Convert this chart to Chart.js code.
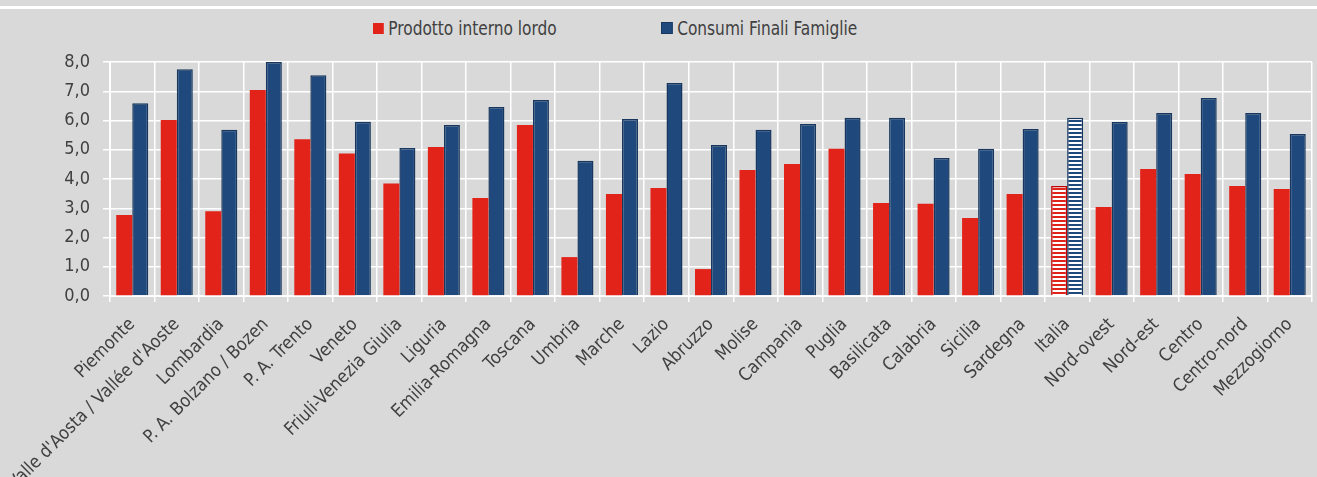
<!DOCTYPE html>
<html>
<head>
<meta charset="utf-8">
<script src="https://cdn.jsdelivr.net/npm/chart.js@4.4.1/dist/chart.umd.min.js"></script>
<style>
  html, body { margin: 0; padding: 0; background: #d9d9d9; }
  #wrap { position: relative; width: 1317px; height: 477px; overflow: hidden; }
  #topline { position: absolute; left: 0; top: 6px; width: 1317px; height: 3px; background: #ffffff; }
  .leg { position: absolute; top: 17px; font-family: "Liberation Sans Narrow", "DejaVu Sans Condensed", sans-serif;
         font-size: 19px; color: #404040; white-space: nowrap; line-height: 22px;
         transform: scaleX(0.9); transform-origin: left center; }
  .leg span.box { display: inline-block; width: 12px; height: 11px; margin-right: 5px; vertical-align: 1px; }
  canvas { position: absolute; left: 0; top: 0; }
</style>
</head>
<body>
<div id="wrap">
  <div id="topline"></div>
  <div class="leg" style="left:373px"><span class="box" style="background:#e2231a"></span>Prodotto interno lordo</div>
  <div class="leg" style="left:661px"><span class="box" style="background:#1f497d;border:1px solid #17375e;width:11px;height:10px"></span>Consumi Finali Famiglie</div>
  <canvas id="chart" width="1317" height="477"></canvas>
</div>
<script>
// Dati
const categorie = ['Piemonte', "Valle d'Aosta / Vallée d'Aoste", 'Lombardia', 'P. A. Bolzano / Bozen', 'P. A. Trento',
  'Veneto', 'Friuli-Venezia Giulia', 'Liguria', 'Emilia-Romagna', 'Toscana', 'Umbria', 'Marche', 'Lazio',
  'Abruzzo', 'Molise', 'Campania', 'Puglia', 'Basilicata', 'Calabria', 'Sicilia', 'Sardegna', 'Italia',
  'Nord-ovest', 'Nord-est', 'Centro', 'Centro-nord', 'Mezzogiorno'];
const pil = [2.77, 6.02, 2.90, 7.04, 5.36, 4.87, 3.85, 5.09, 3.35, 5.85, 1.33, 3.49, 3.69,
  0.92, 4.31, 4.51, 5.03, 3.18, 3.15, 2.67, 3.49, 3.76, 3.04, 4.34, 4.17, 3.76, 3.66];
const consumi = [6.59, 7.75, 5.68, 8.00, 7.55, 5.96, 5.06, 5.85, 6.46, 6.70, 4.62, 6.05, 7.28,
  5.16, 5.68, 5.88, 6.09, 6.09, 4.72, 5.03, 5.71, 6.09, 5.95, 6.26, 6.77, 6.26, 5.54];
const yTicks = [0, 1, 2, 3, 4, 5, 6, 7, 8];

const ROSSO = '#e2231a';
const BLU = '#1f497d';
const BLU_BORDO = '#17375e';
const FONT = '"Liberation Sans Narrow", "DejaVu Sans Condensed", sans-serif';

// pattern a righe orizzontali per Italia
function righe(colore) {
  const c = document.createElement('canvas');
  c.width = 4; c.height = 4;
  const g = c.getContext('2d');
  g.fillStyle = '#ffffff';
  g.fillRect(0, 0, 4, 4);
  g.fillStyle = colore;
  g.fillRect(0, 0, 4, 2);
  return g.createPattern(c, 'repeat');
}

const idxItalia = categorie.indexOf('Italia');
const ctx = document.getElementById('chart').getContext('2d');

const pilBg = pil.map((v, i) => i === idxItalia ? righe(ROSSO) : ROSSO);
const pilBorder = pil.map((v, i) => i === idxItalia ? '#c00000' : ROSSO);
const pilBw = pil.map((v, i) => i === idxItalia ? 1.5 : 0);
const consBg = consumi.map((v, i) => i === idxItalia ? righe(BLU) : BLU);

new Chart(ctx, {
  type: 'bar',
  data: {
    labels: categorie,
    datasets: [{
      label: 'Prodotto interno lordo',
      data: pil,
      backgroundColor: pilBg,
      borderColor: pilBorder,
      borderWidth: pilBw,
      categoryPercentage: 0.72,
      barPercentage: 1.0
    }, {
      label: 'Consumi Finali Famiglie',
      data: consumi,
      backgroundColor: consBg,
      borderColor: BLU_BORDO,
      borderWidth: 1.5,
      categoryPercentage: 0.72,
      barPercentage: 1.0
    }]
  },
  options: {
    responsive: false,
    animation: false,
    layout: { padding: { top: 62, right: 5, left: 0, bottom: 0 } },
    plugins: {
      legend: { display: false },
      tooltip: { enabled: false }
    },
    scales: {
      x: {
        grid: { color: '#ffffff', lineWidth: 1.5, offset: true, tickLength: 6 },
        border: { color: '#ffffff', width: 2 },
        ticks: {
          color: '#404040',
          font: { family: FONT, size: 18 },
          minRotation: 45,
          maxRotation: 45,
          autoSkip: false,
          padding: 12
        },
        afterFit: function(axis) {
          axis.height = 181;
          axis.paddingLeft = 0;
          axis.paddingRight = 0;
        }
      },
      y: {
        min: 0,
        max: 8,
        afterBuildTicks: function(axis) {
          axis.ticks = yTicks.map(v => ({ value: v }));
        },
        grid: { color: '#ffffff', lineWidth: 1.5, tickLength: 7 },
        border: { color: '#ffffff', width: 2 },
        ticks: {
          color: '#404040',
          font: { family: FONT, size: 18 },
          padding: 13,
          callback: v => v.toFixed(1).replace('.', ',')
        },
        afterFit: function(axis) {
          axis.width = 110;
        }
      }
    }
  }
});
</script>
</body>
</html>
